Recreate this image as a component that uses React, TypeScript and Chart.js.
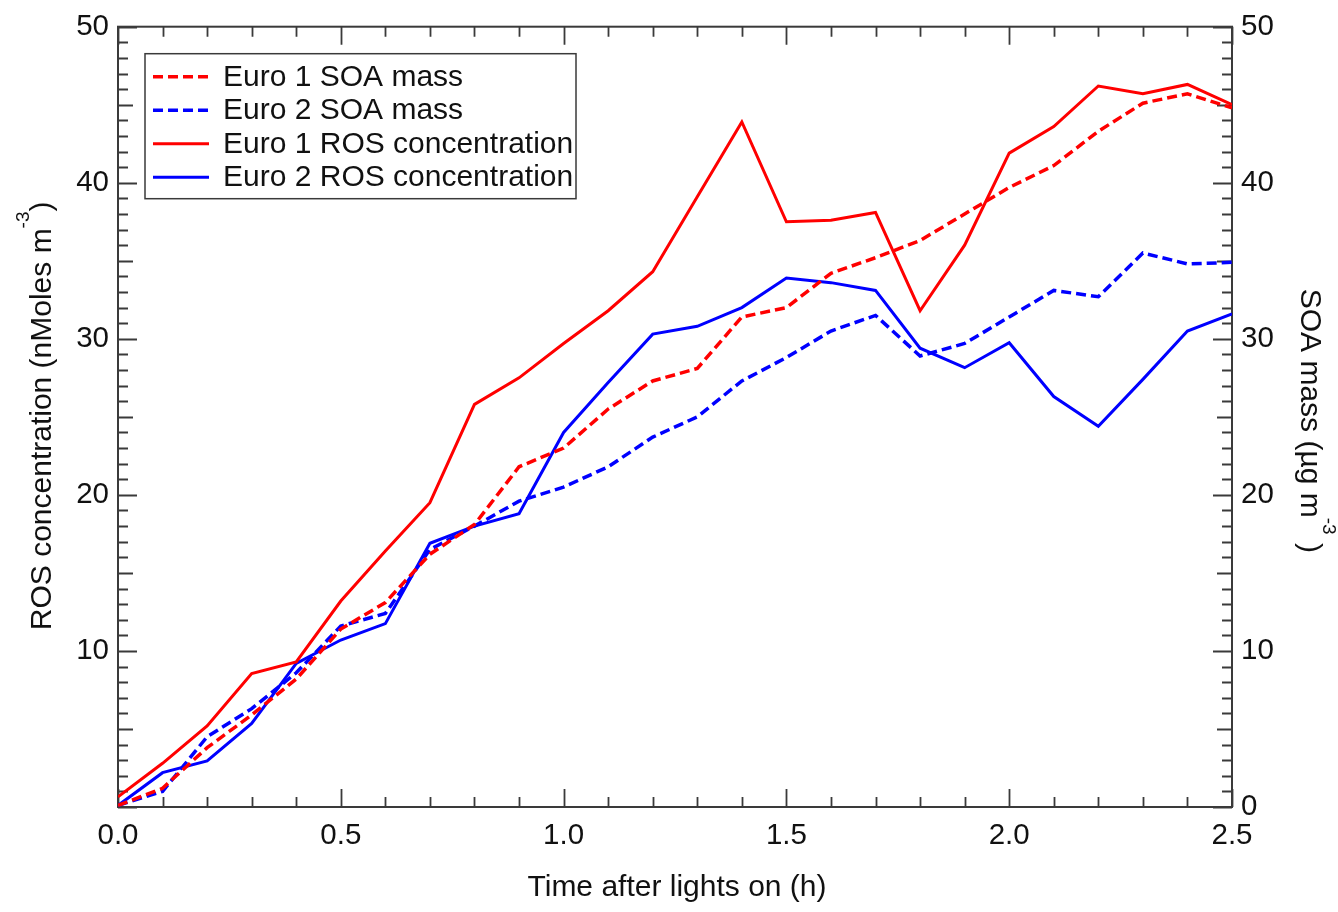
import React, { useEffect, useRef } from 'react';
import { Chart, registerables } from 'chart.js';

Chart.register(...registerables);

// ---- Data ----
const times = [0, 0.1, 0.2, 0.3, 0.4, 0.5, 0.6, 0.7, 0.8, 0.9, 1.0, 1.1, 1.2, 1.3, 1.4, 1.5, 1.6, 1.7, 1.8, 1.9, 2.0, 2.1, 2.2, 2.3, 2.4, 2.5];

const euro1Soa = [0.1, 1.2, 3.8, 5.9, 8.2, 11.4, 13.1, 16.2, 18.1, 21.8, 23.0, 25.5, 27.3, 28.1, 31.4, 32.0, 34.2, 35.2, 36.3, 38.0, 39.7, 41.1, 43.3, 45.1, 45.7, 44.8];
const euro2Soa = [0.1, 1.0, 4.5, 6.3, 8.6, 11.6, 12.4, 16.5, 18.0, 19.6, 20.5, 21.8, 23.7, 25.0, 27.3, 28.8, 30.5, 31.5, 28.9, 29.7, 31.4, 33.1, 32.7, 35.5, 34.8, 34.9];
const euro1Ros = [0.65, 2.8, 5.2, 8.55, 9.3, 13.2, 16.4, 19.5, 25.8, 27.5, 29.7, 31.8, 34.3, 39.1, 43.9, 37.5, 37.6, 38.1, 31.8, 36.0, 41.9, 43.6, 46.2, 45.7, 46.3, 45.0];
const euro2Ros = [0.1, 2.2, 2.95, 5.35, 9.2, 10.7, 11.75, 16.9, 18.0, 18.8, 24.0, 27.2, 30.3, 30.8, 32.0, 33.9, 33.6, 33.1, 29.4, 28.15, 29.75, 26.3, 24.4, 27.4, 30.5, 31.6];

const seriesLabels = ['Euro 1 SOA mass', 'Euro 2 SOA mass', 'Euro 1 ROS concentration', 'Euro 2 ROS concentration'];

const xTickValues = [0, 0.5, 1.0, 1.5, 2.0, 2.5];
const yTickValues = [0, 10, 20, 30, 40, 50];

const xTitle = 'Time after lights on (h)';
const leftTitleParts = [{ t: 'ROS concentration (nMoles m' }, { t: '-3', sup: true }, { t: ')' }];
const rightTitleParts = [{ t: 'SOA mass (\u00b5g m' }, { t: '-3', sup: true }, { t: ' )' }];

// ---- Styles ----
const FONT_FAMILY = '"Liberation Sans", Arial, Helvetica, sans-serif';
const FONT_SIZE = 30;
const TICK_SIZE = 29.5;
const SUP_SIZE = 19;
const SUP_RAISE = 22;
const TEXT_COLOR = '#111111';
const AXIS_COLOR = '#3a3a3a';
const RED = '#ff0000';
const BLUE = '#0000ff';

function drawRich(ctx: CanvasRenderingContext2D, parts: { t: string; sup?: boolean }[], x: number, y: number, rot: number) {
  ctx.save();
  ctx.translate(x, y);
  ctx.rotate(rot);
  ctx.fillStyle = TEXT_COLOR;
  ctx.textBaseline = 'alphabetic';
  ctx.textAlign = 'left';
  const mainFont = `${FONT_SIZE}px ${FONT_FAMILY}`;
  const supFont = `${SUP_SIZE}px ${FONT_FAMILY}`;
  let total = 0;
  const widths = parts.map((p) => {
    ctx.font = p.sup ? supFont : mainFont;
    const w = ctx.measureText(p.t).width;
    total += w;
    return w;
  });
  let cx = -total / 2;
  parts.forEach((p, i) => {
    ctx.font = p.sup ? supFont : mainFont;
    ctx.fillText(p.t, cx, p.sup ? -SUP_RAISE : 0);
    cx += widths[i];
  });
  ctx.restore();
}

const framePlugin = {
  id: 'frameTicks',
  beforeDatasetsDraw(chart: any) {
    const { ctx, chartArea, scales } = chart;
    const { left, right, top, bottom } = chartArea;
    ctx.save();
    ctx.strokeStyle = AXIS_COLOR;
    ctx.lineWidth = 2;
    ctx.strokeRect(left, top, right - left, bottom - top);
    ctx.lineWidth = 1.8;
    ctx.beginPath();
    const xs = scales.x;
    for (let i = 0; i <= 25; i++) {
      const px = Math.round(xs.getPixelForValue(i / 10)) + 0.5;
      const len = i % 5 === 0 ? 18 : 10;
      ctx.moveTo(px, bottom);
      ctx.lineTo(px, bottom - len);
      ctx.moveTo(px, top);
      ctx.lineTo(px, top + len);
    }
    const ys = scales.y;
    for (let v = 0; v <= 50; v++) {
      const py = Math.round(ys.getPixelForValue(v)) + 0.5;
      const len = v % 10 === 0 ? 19 : v % 5 === 0 ? 15 : 10;
      ctx.moveTo(left, py);
      ctx.lineTo(left + len, py);
      ctx.moveTo(right, py);
      ctx.lineTo(right - len, py);
    }
    ctx.stroke();
    ctx.restore();
  },
  afterDraw(chart: any) {
    const { ctx, chartArea } = chart;
    const { left, right, top, bottom } = chartArea;
    // axis titles
    drawRich(ctx, [{ t: xTitle }], (left + right) / 2 + 2, 896, 0);
    drawRich(ctx, leftTitleParts, 51, (top + bottom) / 2 - 1, -Math.PI / 2);
    drawRich(ctx, rightTitleParts, 1301, (top + bottom) / 2 + 4, Math.PI / 2);

    // legend
    const bx = left + 27;
    const by = top + 27;
    const bw = 431;
    const bh = 145;
    ctx.save();
    ctx.fillStyle = '#ffffff';
    ctx.fillRect(bx, by, bw, bh);
    ctx.strokeStyle = AXIS_COLOR;
    ctx.lineWidth = 1.5;
    ctx.strokeRect(bx, by, bw, bh);
    ctx.font = `${FONT_SIZE}px ${FONT_FAMILY}`;
    ctx.textBaseline = 'middle';
    ctx.textAlign = 'left';
    chart.data.datasets.forEach((ds: any, i: number) => {
      const ry = by + 23 + i * 33.5;
      ctx.strokeStyle = ds.borderColor;
      ctx.lineWidth = ds.borderWidth;
      ctx.setLineDash(ds.borderDash || []);
      ctx.beginPath();
      ctx.moveTo(bx + 8, ry);
      ctx.lineTo(bx + 64, ry);
      ctx.stroke();
      ctx.setLineDash([]);
      ctx.fillStyle = TEXT_COLOR;
      ctx.fillText(ds.label, bx + 78, ry + 1);
    });
    ctx.restore();
  },
};

export default function App() {
  const canvasRef = useRef<HTMLCanvasElement | null>(null);

  useEffect(() => {
    if (!canvasRef.current) return;
    const mk = (arr: number[]) => arr.map((v, i) => ({ x: times[i], y: v }));
    const tickFont = { family: FONT_FAMILY, size: TICK_SIZE };
    const chart = new Chart(canvasRef.current, {
      type: 'line',
      data: {
        datasets: [
          { label: seriesLabels[0], data: mk(euro1Soa), borderColor: RED, borderWidth: 3.5, borderDash: [10, 5], yAxisID: 'y2', pointRadius: 0, fill: false, tension: 0 },
          { label: seriesLabels[1], data: mk(euro2Soa), borderColor: BLUE, borderWidth: 3.5, borderDash: [10, 5], yAxisID: 'y2', pointRadius: 0, fill: false, tension: 0 },
          { label: seriesLabels[2], data: mk(euro1Ros), borderColor: RED, borderWidth: 3, yAxisID: 'y', pointRadius: 0, fill: false, tension: 0 },
          { label: seriesLabels[3], data: mk(euro2Ros), borderColor: BLUE, borderWidth: 3, yAxisID: 'y', pointRadius: 0, fill: false, tension: 0 },
        ],
      },
      options: {
        responsive: false,
        animation: false,
        events: [],
        layout: { padding: { top: 25, left: 0, right: 0, bottom: 0 } },
        plugins: { legend: { display: false }, tooltip: { enabled: false } },
        scales: {
          x: {
            type: 'linear',
            position: 'bottom',
            min: 0,
            max: 2.5,
            grid: { display: false, drawTicks: false },
            border: { display: false },
            afterBuildTicks: (s: any) => { s.ticks = xTickValues.map((v) => ({ value: v })); },
            afterFit: (s: any) => { s.height = 105; },
            ticks: { font: tickFont, color: TEXT_COLOR, padding: 11, maxRotation: 0, autoSkip: false, callback: (v: any) => Number(v).toFixed(1) },
          },
          y: {
            type: 'linear',
            position: 'left',
            min: 0,
            max: 50,
            grid: { display: false, drawTicks: false },
            border: { display: false },
            afterBuildTicks: (s: any) => { s.ticks = yTickValues.map((v) => ({ value: v })); },
            afterFit: (s: any) => { s.width = 118; },
            ticks: { font: tickFont, color: TEXT_COLOR, padding: 9, callback: (v: any) => (Number(v) === 0 ? '' : String(v)) },
          },
          y2: {
            type: 'linear',
            position: 'right',
            min: 0,
            max: 50,
            grid: { display: false, drawTicks: false },
            border: { display: false },
            afterBuildTicks: (s: any) => { s.ticks = yTickValues.map((v) => ({ value: v })); },
            afterFit: (s: any) => { s.width = 106; },
            ticks: { font: tickFont, color: TEXT_COLOR, padding: 9, callback: (v: any) => String(v) },
          },
        },
      },
      plugins: [framePlugin],
    } as any);
    return () => chart.destroy();
  }, []);

  return (
    <div style={{ position: 'absolute', left: 0, top: 0, width: 1338, height: 912, background: '#ffffff' }}>
      <canvas ref={canvasRef} width={1338} height={912} style={{ display: 'block' }} />
    </div>
  );
}
